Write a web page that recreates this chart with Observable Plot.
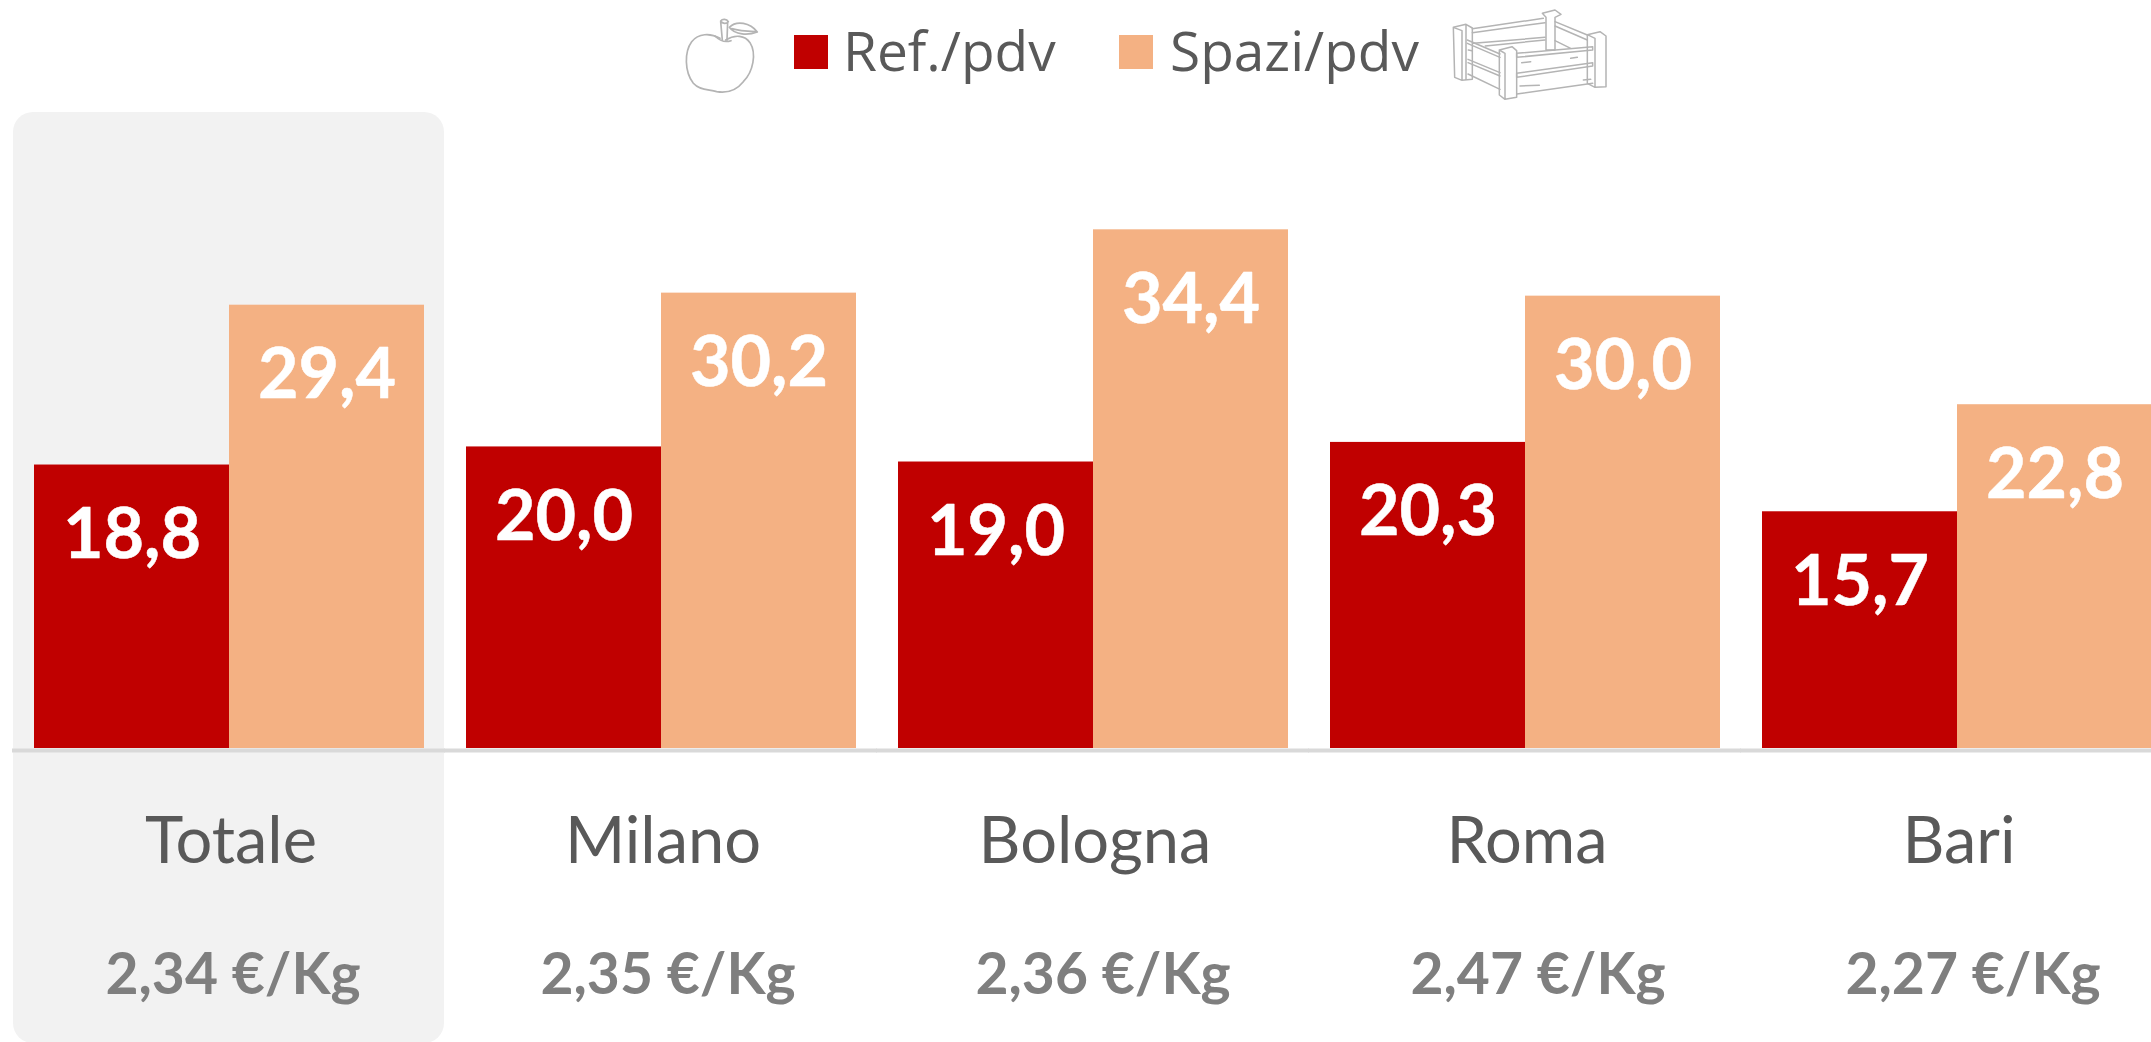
<!DOCTYPE html>
<html lang="it">
<head>
<meta charset="utf-8">
<script src="https://cdn.jsdelivr.net/npm/d3@7"></script>
<script src="https://cdn.jsdelivr.net/npm/@observablehq/plot@0.6"></script>
<style>
html,body{margin:0;padding:0;background:#fff;overflow:hidden}
#legend{position:relative;width:2151px;height:100px}
#legend .sw{position:absolute;top:35px;width:34px;height:34px}
#legend .lb{position:absolute;top:20px;font:55px/60px "Open Sans",sans-serif;color:#595959;white-space:nowrap}
#legend svg{position:absolute;fill:none;stroke:#b4b4b4;stroke-linejoin:round;stroke-linecap:round}
</style>
</head>
<body>
<div id="legend">
<svg style="left:675px;top:10px" width="100" height="90" viewBox="0 0 300 270" stroke-width="5">
<path d="M135 85C105 68 70 70 50 95C28 125 28 185 55 220C72 240 100 238 125 245C155 250 185 240 205 215C235 185 245 130 225 98C210 76 180 72 152 90"/>
<path d="M137 35L142 90M158 35L156 90M137 33C142 26 155 26 160 35C155 42 142 42 137 33M120 78C130 88 145 100 168 92"/>
<path d="M163 52C185 30 225 38 247 66C220 76 180 76 163 52ZM170 56C190 62 215 64 240 65"/>
</svg>
<svg style="left:1440px;top:0" width="180" height="110" viewBox="0 0 540 330" stroke-width="4.5">
<path d="M40 82L78 73L97 84L97 238L66 241L44 232ZM78 73L78 238M40 82L66 92L66 238"/>
<path d="M307 40L345 30L363 43L345 52L345 150L318 150L318 52ZM318 52L307 40"/>
<path d="M97 86L310 55M97 98L315 68M100 130L315 112M136 138L315 120"/>
<path d="M345 65L442 105M345 78L442 120M345 122L392 145"/>
<path d="M442 104L480 95L498 108L498 260L465 262L442 250ZM442 104L465 115L465 262"/>
<path d="M82 120L180 162M82 130L180 172M84 178L180 218M84 188L180 228M84 222L180 268"/>
<path d="M178 150L216 140L230 152L230 292L195 298L178 285ZM178 150L195 160L195 298"/>
<path d="M230 160L458 140L458 150L230 172ZM230 220L458 188L458 198L230 232ZM230 282L458 250"/>
<path d="M85 150L96 152M245 188L272 185M392 175L412 172M240 258L298 256M430 240L452 238"/>
</svg>
<div class="sw" style="left:794px;background:#c00000"></div>
<div class="lb" style="left:843px">Ref./pdv</div>
<div class="sw" style="left:1119px;background:#f4b183"></div>
<div class="lb" style="left:1170px">Spazi/pdv</div>
</div>
<div id="chart"></div>
<script>
const cities = ["Totale", "Milano", "Bologna", "Roma", "Bari"];
const series = ["Ref./pdv", "Spazi/pdv"];
const refValues = [18.8, 20.0, 19.0, 20.3, 15.7];
const spaceValues = [29.4, 30.2, 34.4, 30.0, 22.8];
const prices = ["2,34 €/Kg", "2,35 €/Kg", "2,36 €/Kg", "2,47 €/Kg", "2,27 €/Kg"];
const colors = ["#c00000", "#f4b183"];
const highlighted = ["Totale"];
const yMax = 42.18;

const rows = cities.flatMap((city, i) => [
  {city, series: series[0], value: refValues[i]},
  {city, series: series[1], value: spaceValues[i]}
]);
const cityRows = cities.map((city, i) => ({city, price: prices[i]}));
const itComma = (v) => v.toFixed(1).replace(".", ",");
const font = "Lato, Carlito, sans-serif";

const chart = Plot.plot({
  width: 2151,
  height: 942,
  marginTop: 12,
  marginBottom: 294,
  marginLeft: 13,
  marginRight: 0,
  style: {background: "transparent", fontFamily: font, overflow: "hidden"},
  fx: {domain: cities, range: [31, 2154.4], paddingInner: 0.0939, paddingOuter: 0, axis: null, label: null},
  x: {domain: series, padding: 0, axis: null, label: null},
  y: {domain: [0, yMax], range: [648, 12], axis: null, label: null},
  color: {domain: series, range: colors},
  marks: [
    Plot.rect(highlighted, {
      fx: (d) => d, y1: 0, y2: yMax,
      insetLeft: -20, insetRight: -20, insetBottom: -295,
      rx: 20, fill: "#f2f2f2"
    }),
    Plot.ruleY([0], {insetLeft: -21, insetRight: -21, dy: 2, stroke: "#d9d9d9", strokeWidth: 4}),
    Plot.barY(rows, {fx: "city", x: "series", y: "value", fill: "series"}),
    Plot.text(rows, {
      fx: "city", x: "series", y: "value", text: (d) => itComma(d.value),
      lineAnchor: "bottom", dy: 93, fill: "white", stroke: "white", strokeWidth: 0.5,
      fontWeight: 700, fontSize: 70
    }),
    Plot.text(cityRows, {
      fx: "city", y: () => 0, text: "city",
      lineAnchor: "bottom", dx: 2, dy: 114, fill: "#595959", fontSize: 65
    }),
    ...cityRows.map((row, i) => Plot.text([row], {
      fx: "city", y: () => 0, text: "price",
      lineAnchor: "bottom", dy: 245, dx: 4 + 3 * i,
      fill: "#7f7f7f", fontWeight: 700, fontSize: 57
    }))
  ]
});
document.getElementById("chart").append(chart);
</script>
</body>
</html>
